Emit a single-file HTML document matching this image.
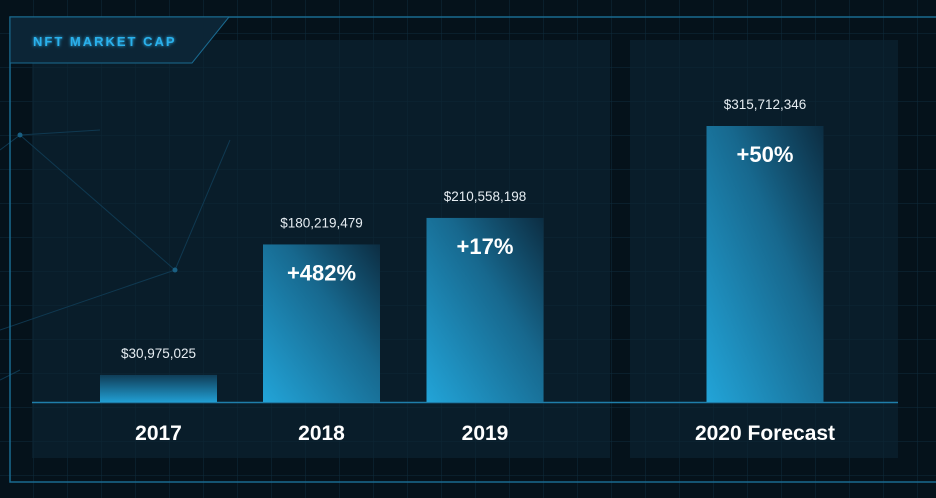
<!DOCTYPE html>
<html><head><meta charset="utf-8"><style>
body{margin:0;background:#061520;}
svg{display:block;font-family:"Liberation Sans",sans-serif;}
</style></head><body>
<svg id="chart" width="936" height="498" viewBox="0 0 936 498">
<defs>
<pattern id="grid" width="34" height="34" patternUnits="userSpaceOnUse"><path d="M34 0V34H0" fill="none" stroke="#0f2c3d" stroke-width="1"/></pattern>
<linearGradient id="barg" x1="0" y1="1" x2="1" y2="0"><stop offset="0" stop-color="#22a4d8"/><stop offset="0.6" stop-color="#17688e"/><stop offset="1" stop-color="#0c2d42"/></linearGradient>
<linearGradient id="barSmall" x1="0" y1="1" x2="0" y2="0"><stop offset="0" stop-color="#219ed2"/><stop offset="1" stop-color="#0f3d57"/></linearGradient>
<filter id="glow"><feGaussianBlur stdDeviation="1.5" result="b"/><feMerge><feMergeNode in="b"/><feMergeNode in="SourceGraphic"/></feMerge></filter>
</defs>
<rect width="936" height="498" fill="#05121b"/>
<rect width="936" height="498" fill="url(#grid)"/>
<rect x="32" y="40" width="578" height="418" fill="#0a1e2b" opacity="0.92"/>
<rect x="630" y="40" width="268" height="418" fill="#0a1e2b" opacity="0.92"/>
<rect x="32" y="40" width="578" height="418" fill="url(#grid)" opacity="0.5"/>
<rect x="630" y="40" width="268" height="418" fill="url(#grid)" opacity="0.5"/>
<g stroke="#12405a" stroke-width="1" fill="none" opacity="0.8">
<path d="M0 150 L20 135 L100 130 M20 135 L175 270 L0 330 M175 270 L230 140 M0 380 L20 370"/>
</g>
<circle cx="175" cy="270" r="2.5" fill="#1a5f82"/><circle cx="20" cy="135" r="2.5" fill="#1a5f82"/>
<path d="M936 17 H10 V482 H936" fill="none" stroke="#1a6a90" stroke-width="1.5"/>
<path d="M10 17 H229 L192 63 H10 Z" fill="#0c2536" stroke="#1a6a90" stroke-width="1"/>
<text x="33" y="46" fill="#2bb1ec" font-size="13" font-weight="bold" letter-spacing="2" filter="url(#glow)">NFT MARKET CAP</text>
<line x1="32" y1="402.5" x2="898" y2="402.5" stroke="#1f7eaa" stroke-width="1.5"/>
<g id="bars"></g>
</svg>
<script>
const categories=["2017","2018","2019","2020 Forecast"];
const values=[30975025,180219479,210558198,315712346];
const valueLabels=["$30,975,025","$180,219,479","$210,558,198","$315,712,346"];
const changeLabels=["","+482%","+17%","+50%"];
const centers=[158.5,321.5,485,765];
const baseY=402, pxPerUnit=276/315712346;
function y(v){return baseY-v*pxPerUnit;}
const NS="http://www.w3.org/2000/svg";
const g=document.getElementById('bars');
function mk(tag,attrs,txt){const e=document.createElementNS(NS,tag);for(const k in attrs)e.setAttribute(k,attrs[k]);if(txt)e.textContent=txt;g.appendChild(e);return e;}
categories.forEach((c,i)=>{
 const cx=centers[i],top=y(values[i]),w=117;
 const r=mk('rect',{x:cx-w/2,y:top,width:w,height:baseY-top,fill:i===0?'url(#barSmall)':'url(#barg)'});
 
 
 const vl=mk('text',{x:cx,y:top-17,fill:'#e6edf2','font-size':13.5,'text-anchor':'middle'},valueLabels[i]);
 
 
 if(changeLabels[i]){
  const pl=mk('text',{x:cx,y:top+36,fill:'#ffffff','font-size':22,'font-weight':'bold','text-anchor':'middle'},changeLabels[i]);
  
  
 }
 const xl=mk('text',{x:cx,y:440,fill:'#ffffff','font-size':21,'font-weight':'bold','text-anchor':'middle'},c);
 
 
});
</script>
</body></html>
